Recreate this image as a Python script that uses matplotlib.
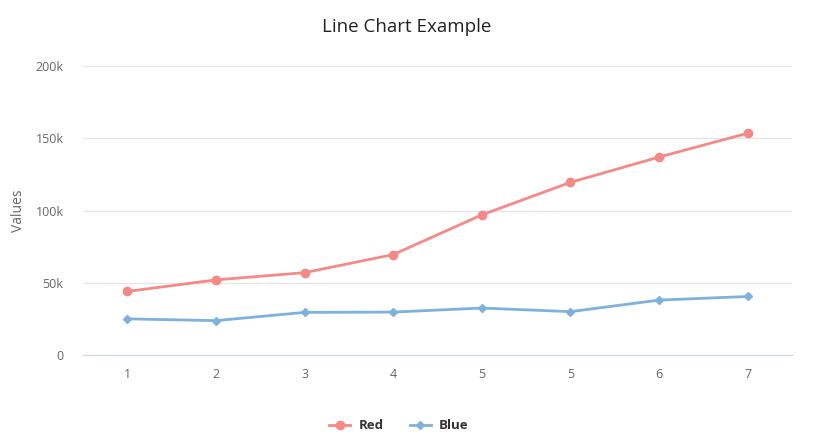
import matplotlib.pyplot as plt
from matplotlib.ticker import FuncFormatter

categories = ['1', '2', '3', '4', '5', '5', '6', '7']
red_values = [44000, 52000, 57000, 69500, 97000, 119500, 137000, 153500]
blue_values = [25000, 23800, 29500, 29700, 32500, 30000, 38000, 40500]
y_ticks = [0, 50000, 100000, 150000, 200000]

plt.rcParams['font.family'] = ['Open Sans', 'DejaVu Sans']

fig = plt.figure(figsize=(8.14, 4.47), dpi=100)
ax = fig.add_axes([0.102, 0.2058, 0.871, 0.6465])

x = list(range(len(categories)))
ax.plot(x, red_values, color='#f48a87', lw=2, marker='o', ms=6, label='Red')
ax.plot(x, blue_values, color='#7eb1dc', lw=2, marker='D', ms=4.5, label='Blue')

ax.set_xlim(-0.5, len(categories) - 0.5)
ax.set_ylim(0, 200000)
ax.set_xticks(x)
ax.set_xticklabels(categories)
ax.set_yticks(y_ticks)
ax.yaxis.set_major_formatter(FuncFormatter(lambda v, p: '0' if v == 0 else '%dk' % (v / 1000)))

ax.grid(axis='y', color='#e6e6e6', lw=1)
ax.set_axisbelow(True)
for s in ['top', 'right', 'left']:
    ax.spines[s].set_visible(False)
ax.spines['bottom'].set_color('#ccd6eb')
ax.tick_params(axis='both', length=0, labelsize=9, colors='#666666')
ax.tick_params(axis='y', pad=14)
ax.tick_params(axis='x', pad=9)

ax.set_ylabel('Values', fontsize=10, color='#666666', labelpad=7)
fig.text(0.5, 0.94, 'Line Chart Example', ha='center', va='center', fontsize=13.5, color='#222222')

leg = fig.legend(loc='center', bbox_to_anchor=(0.49, 0.047), ncol=2, frameon=False,
                 prop={'weight': 'bold', 'size': 9.5}, handlelength=1.6, columnspacing=2.0,
                 handletextpad=0.6)
for t in leg.get_texts():
    t.set_color('#333333')

fig.savefig('out.png', dpi=100)
